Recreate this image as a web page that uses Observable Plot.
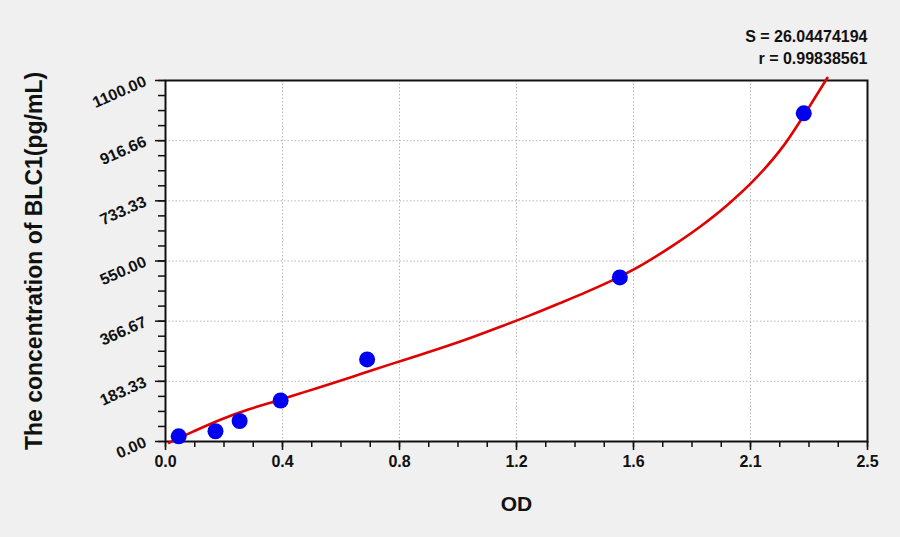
<!DOCTYPE html>
<html>
<head>
<meta charset="utf-8">
<script src="https://cdn.jsdelivr.net/npm/d3@7"></script>
<script src="https://cdn.jsdelivr.net/npm/@observablehq/plot@0.6"></script>
<style>
  html, body { margin: 0; padding: 0; background: #f0f0f0; }
  #chart svg { display: block; }
</style>
</head>
<body>
<div id="chart"></div>
<script>
// Standard points
const pointOD   = [0.047, 0.178, 0.264, 0.410, 0.718, 1.618, 2.273];
const pointConc = [15.63, 31.25, 62.5, 125, 250, 500, 1000];

// Fitted curve
const curveOD   = [0.012, 0.1, 0.2, 0.3, 0.4, 0.5, 0.6, 0.7, 0.8, 0.9, 1.0, 1.1, 1.2, 1.3, 1.4, 1.5, 1.6, 1.7, 1.8, 1.9, 2.0, 2.1, 2.2, 2.3, 2.357];
const curveConc = [-4, 31, 68, 99, 125, 152, 179, 207, 235, 262, 290, 320, 352, 385, 420, 456, 495, 540, 593, 652, 720, 800, 900, 1030, 1108];

// Axes
const xTickLabels = ["0.0", "0.4", "0.8", "1.2", "1.6", "2.1", "2.5"];
const yTickLabels = ["0.00", "183.33", "366.67", "550.00", "733.33", "916.66", "1100.00"];
const xMax = 2.5, yMax = 1100;

const statS = "S = 26.04474194";
const statR = "r = 0.99838561";
const xTitle = "OD";
const yTitle = "The concentration of BLC1(pg/mL)";

const xMajor = xTickLabels.map((_, i) => i * xMax / (xTickLabels.length - 1));
const yMajor = yTickLabels.map((_, i) => i * yMax / (yTickLabels.length - 1));
const xMinor = d3.range(0, 25).map(i => i * xMax / 24);
const yMinor = d3.range(0, 25).map(i => i * yMax / 24);

const points = pointOD.map((x, i) => ({x, y: pointConc[i]}));
const curve = curveOD.map((x, i) => ({x, y: curveConc[i]}));

const chart = Plot.plot({
  width: 900,
  height: 537,
  marginLeft: 165,
  marginRight: 33,
  marginTop: 80,
  marginBottom: 96,
  style: {
    fontFamily: "'Liberation Sans', Arial, sans-serif",
    fontWeight: "bold",
    fontSize: "16px",
    background: "#f0f0f0",
    color: "#111"
  },
  x: {domain: [0, xMax]},
  y: {domain: [0, yMax]},
  marks: [
    Plot.frame({fill: "white", stroke: null}),
    Plot.gridX(xMajor.slice(1, -1), {stroke: "#b8b8b8", strokeOpacity: 1, strokeDasharray: "1.5,2"}),
    Plot.gridY(yMajor.slice(1, -1), {stroke: "#b8b8b8", strokeOpacity: 1, strokeDasharray: "1.5,2"}),
    Plot.axisX({ticks: xMinor, tickSize: 6, text: null, label: null, strokeWidth: 1.5}),
    Plot.axisY({ticks: yMinor, tickSize: 7, text: null, label: null, strokeWidth: 1.5}),
    Plot.axisX({ticks: xMajor, tickSize: 9, tickPadding: 5, strokeWidth: 1.5, fontSize: 16,
      tickFormat: d => xTickLabels[xMajor.indexOf(d)], label: null}),
    Plot.axisY({ticks: yMajor, tickSize: 10, tickPadding: 10, strokeWidth: 1.5, tickRotate: -24, fontSize: 16,
      tickFormat: d => yTickLabels[yMajor.indexOf(d)], label: null}),
    Plot.frame({stroke: "#111", strokeWidth: 2}),
    Plot.line(curve, {x: "x", y: "y", stroke: "#e00000", strokeWidth: 2.6, curve: "monotone-x"}),
    Plot.dot(points, {x: "x", y: "y", r: 8, fill: "#0000f0", stroke: null}),
    Plot.text([statS], {frameAnchor: "top-right", dy: -50, text: d => d, textAnchor: "end", fontSize: 16, fontWeight: "bold", letterSpacing: "-0.5px"}),
    Plot.text([statR], {frameAnchor: "top-right", dy: -28, text: d => d, textAnchor: "end", fontSize: 16, fontWeight: "bold", letterSpacing: "-0.5px"}),
    Plot.text([xTitle], {frameAnchor: "bottom", dy: 69, text: d => d, fontSize: 21, fontWeight: "bold"}),
    Plot.text([yTitle], {frameAnchor: "left", dx: -131, rotate: -90, textAnchor: "middle", text: d => d, fontSize: 23, fontWeight: "bold"})
  ]
});
document.getElementById("chart").appendChild(chart);
</script>
</body>
</html>
